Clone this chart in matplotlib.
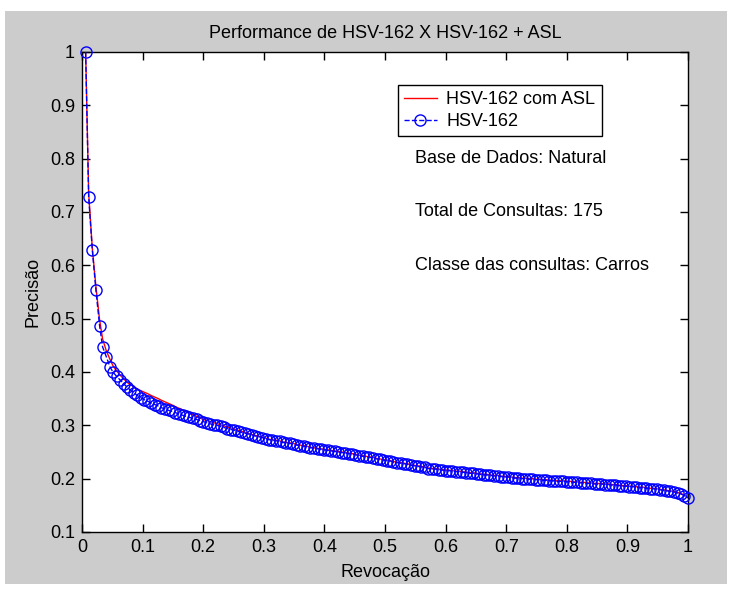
import matplotlib
matplotlib.use('Agg')
import matplotlib.pyplot as plt
from matplotlib.patches import Rectangle

matplotlib.rcParams.update({'font.family': ['Liberation Sans', 'DejaVu Sans']})

# recall levels (one per retrieved relevant item)
recall = [
    0.006, 0.011, 0.017, 0.023, 0.029, 0.034, 0.040, 0.046, 0.051, 0.057,
    0.063, 0.069, 0.074, 0.080, 0.086, 0.091, 0.097, 0.103, 0.109, 0.114,
    0.120, 0.126, 0.131, 0.137, 0.143, 0.149, 0.154, 0.160, 0.166, 0.171,
    0.177, 0.183, 0.189, 0.194, 0.200, 0.206, 0.211, 0.217, 0.223, 0.229,
    0.234, 0.240, 0.246, 0.251, 0.257, 0.263, 0.269, 0.274, 0.280, 0.286,
    0.291, 0.297, 0.303, 0.309, 0.314, 0.320, 0.326, 0.331, 0.337, 0.343,
    0.349, 0.354, 0.360, 0.366, 0.371, 0.377, 0.383, 0.389, 0.394, 0.400,
    0.406, 0.411, 0.417, 0.423, 0.429, 0.434, 0.440, 0.446, 0.451, 0.457,
    0.463, 0.469, 0.474, 0.480, 0.486, 0.491, 0.497, 0.503, 0.509, 0.514,
    0.520, 0.526, 0.531, 0.537, 0.543, 0.549, 0.554, 0.560, 0.566, 0.571,
    0.577, 0.583, 0.589, 0.594, 0.600, 0.606, 0.611, 0.617, 0.623, 0.629,
    0.634, 0.640, 0.646, 0.651, 0.657, 0.663, 0.669, 0.674, 0.680, 0.686,
    0.691, 0.697, 0.703, 0.709, 0.714, 0.720, 0.726, 0.731, 0.737, 0.743,
    0.749, 0.754, 0.760, 0.766, 0.771, 0.777, 0.783, 0.789, 0.794, 0.800,
    0.806, 0.811, 0.817, 0.823, 0.829, 0.834, 0.840, 0.846, 0.851, 0.857,
    0.863, 0.869, 0.874, 0.880, 0.886, 0.891, 0.897, 0.903, 0.909, 0.914,
    0.920, 0.926, 0.931, 0.937, 0.943, 0.949, 0.954, 0.960, 0.966, 0.971,
    0.977, 0.983, 0.989, 0.994, 1.000,
]

# precision, HSV-162 with ASL
prec_asl = [
    1.000, 0.735, 0.632, 0.560, 0.498, 0.462, 0.440, 0.424, 0.412, 0.402,
    0.394, 0.387, 0.381, 0.376, 0.372, 0.368, 0.365, 0.362, 0.359, 0.356,
    0.353, 0.350, 0.347, 0.344, 0.341, 0.338, 0.335, 0.332, 0.329, 0.326,
    0.323, 0.320, 0.317, 0.314, 0.311, 0.309, 0.307, 0.305, 0.303, 0.301,
    0.299, 0.297, 0.295, 0.293, 0.291, 0.289, 0.287, 0.285, 0.283, 0.281,
    0.280, 0.278, 0.276, 0.274, 0.273, 0.272, 0.271, 0.269, 0.268, 0.267,
    0.266, 0.264, 0.263, 0.262, 0.261, 0.259, 0.258, 0.257, 0.256, 0.255,
    0.254, 0.253, 0.252, 0.251, 0.250, 0.249, 0.248, 0.247, 0.246, 0.244,
    0.243, 0.242, 0.241, 0.240, 0.238, 0.237, 0.236, 0.235, 0.234, 0.232,
    0.231, 0.230, 0.229, 0.228, 0.226, 0.225, 0.224, 0.223, 0.222, 0.220,
    0.219, 0.219, 0.218, 0.217, 0.216, 0.216, 0.215, 0.214, 0.214, 0.213,
    0.212, 0.211, 0.211, 0.210, 0.209, 0.208, 0.208, 0.207, 0.206, 0.206,
    0.205, 0.204, 0.204, 0.203, 0.202, 0.202, 0.201, 0.201, 0.200, 0.200,
    0.199, 0.199, 0.198, 0.198, 0.197, 0.197, 0.196, 0.196, 0.196, 0.195,
    0.195, 0.194, 0.194, 0.193, 0.193, 0.192, 0.192, 0.191, 0.191, 0.191,
    0.190, 0.190, 0.189, 0.189, 0.188, 0.187, 0.187, 0.186, 0.186, 0.185,
    0.184, 0.184, 0.183, 0.182, 0.182, 0.181, 0.180, 0.179, 0.178, 0.177,
    0.176, 0.174, 0.172, 0.169, 0.165,
]

# precision, plain HSV-162
prec_hsv = [
    1.000, 0.728, 0.629, 0.553, 0.487, 0.447, 0.429, 0.410, 0.400, 0.392,
    0.385, 0.378, 0.372, 0.366, 0.361, 0.356, 0.352, 0.348, 0.345, 0.342,
    0.339, 0.336, 0.333, 0.331, 0.328, 0.326, 0.324, 0.321, 0.319, 0.317,
    0.315, 0.313, 0.311, 0.309, 0.307, 0.305, 0.303, 0.301, 0.300, 0.298,
    0.296, 0.294, 0.292, 0.291, 0.289, 0.287, 0.285, 0.284, 0.282, 0.280,
    0.279, 0.277, 0.275, 0.273, 0.272, 0.271, 0.270, 0.268, 0.267, 0.266,
    0.265, 0.263, 0.262, 0.261, 0.260, 0.258, 0.257, 0.256, 0.255, 0.254,
    0.253, 0.252, 0.251, 0.250, 0.249, 0.248, 0.247, 0.246, 0.245, 0.243,
    0.242, 0.241, 0.240, 0.239, 0.237, 0.236, 0.235, 0.234, 0.233, 0.231,
    0.230, 0.229, 0.228, 0.227, 0.225, 0.224, 0.223, 0.222, 0.221, 0.219,
    0.218, 0.218, 0.217, 0.216, 0.215, 0.215, 0.214, 0.213, 0.213, 0.212,
    0.211, 0.210, 0.210, 0.209, 0.208, 0.207, 0.207, 0.206, 0.205, 0.205,
    0.204, 0.203, 0.203, 0.202, 0.201, 0.201, 0.200, 0.200, 0.199, 0.199,
    0.198, 0.198, 0.197, 0.197, 0.196, 0.196, 0.195, 0.195, 0.195, 0.194,
    0.194, 0.193, 0.193, 0.192, 0.192, 0.191, 0.191, 0.190, 0.190, 0.190,
    0.189, 0.189, 0.188, 0.188, 0.187, 0.186, 0.186, 0.185, 0.185, 0.184,
    0.183, 0.183, 0.182, 0.181, 0.181, 0.180, 0.179, 0.178, 0.177, 0.176,
    0.175, 0.173, 0.171, 0.168, 0.164,
]

xticks = [0, 0.1, 0.2, 0.3, 0.4, 0.5, 0.6, 0.7, 0.8, 0.9, 1]
xtick_labels = ['0', '0.1', '0.2', '0.3', '0.4', '0.5', '0.6', '0.7', '0.8', '0.9', '1']
yticks = [0.1, 0.2, 0.3, 0.4, 0.5, 0.6, 0.7, 0.8, 0.9, 1]
ytick_labels = ['0.1', '0.2', '0.3', '0.4', '0.5', '0.6', '0.7', '0.8', '0.9', '1']

info = ['Base de Dados: Natural', 'Total de Consultas: 175', 'Classe das consultas: Carros']
info_y = [0.8, 0.7, 0.6]

fig = plt.figure(figsize=(7.31, 5.90), dpi=100, facecolor='white')
# grey figure panel inside a thin white border
bg = Rectangle((5 / 731, 6 / 590), 722 / 731, 573 / 590,
               transform=fig.transFigure, facecolor='#cccccc',
               edgecolor='none', zorder=-10)
fig.patches.append(bg)

ax = fig.add_axes([82 / 731, 58 / 590, 606 / 731, 480 / 590], zorder=1)
ax.set_facecolor('white')

ax.plot(recall, prec_asl, '-', color='red', lw=1, label='HSV-162 com ASL', zorder=2)
ax.plot(recall, prec_hsv, '--o', color='blue', lw=1, markersize=8,
        markerfacecolor='none', markeredgecolor='blue', markeredgewidth=1,
        label='HSV-162', zorder=3, clip_on=False)

ax.set_xlim(0, 1)
ax.set_ylim(0.1, 1)
ax.set_xticks(xticks)
ax.set_xticklabels(xtick_labels)
ax.set_yticks(yticks)
ax.set_yticklabels(ytick_labels)
ax.tick_params(direction='in', top=True, right=True, length=6, width=1,
               labelsize=13, pad=5)
for s in ax.spines.values():
    s.set_linewidth(1)
    s.set_color('black')

ax.set_title('Performance de HSV-162 X HSV-162 + ASL', fontsize=13, pad=10)
ax.set_xlabel('Revocação', fontsize=13, labelpad=6)
ax.set_ylabel('Precisão', fontsize=13, labelpad=6)

for txt, y in zip(info, info_y):
    ax.text(0.55, y, txt, fontsize=13, va='center', ha='left')

leg = ax.legend(loc='upper left', bbox_to_anchor=(0.521, 0.931), fontsize=13,
                frameon=True, fancybox=False, framealpha=1, edgecolor='black',
                borderpad=0.35, handlelength=1.8, handletextpad=0.55,
                labelspacing=0.25, borderaxespad=0)
leg.get_frame().set_linewidth(1)

fig.savefig('out.png', dpi=100, facecolor=fig.get_facecolor())
